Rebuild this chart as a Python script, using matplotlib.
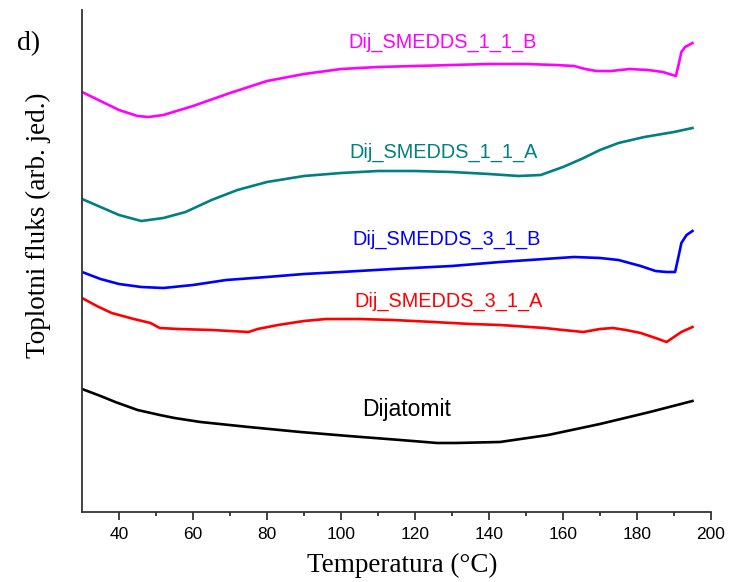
import matplotlib.pyplot as plt

# Temperatura (°C) i toplotni fluks (arb. jed.) za svaki uzorak
t_11b = [30, 35, 40, 45, 48, 52, 60, 70, 80, 90, 100, 110, 120, 130, 140, 150,
         158, 163, 166, 169, 173, 178, 183, 187, 190.5, 191.3, 192, 193, 195]
f_11b = [420, 411, 402, 396, 395, 397, 406, 419, 431, 438, 443, 445, 446, 447, 448, 448,
         447, 446, 443, 441, 441, 443, 442, 440, 436, 448, 460, 465, 469]

t_11a = [30, 35, 40, 46, 52, 58, 65, 72, 80, 90, 100, 110, 120, 130, 140, 148,
         154, 160, 165, 170, 175, 182, 190, 195]
f_11a = [313, 305, 297, 291, 294, 300, 312, 322, 330, 336, 339, 341, 341, 340, 338, 336,
         337, 345, 353, 362, 369, 375, 380, 384]

t_31b = [30, 35, 40, 46, 52, 60, 69, 80, 90, 100, 114, 130, 143, 155, 163, 170,
         175, 181, 185, 188, 190.3, 191.2, 192, 193.4, 195]
f_31b = [240, 233, 228, 225, 224, 227, 232, 235, 238, 240, 243, 246, 250, 253, 255, 254,
         252, 246, 241, 240, 240, 255, 269, 277, 281]

t_31a = [30, 34, 38, 44, 48.5, 51, 56, 65, 75, 77.5, 83, 90, 96, 105, 114, 125,
         135, 143, 155, 160, 165.5, 170, 173.5, 177, 181, 185, 188, 190, 192, 195]
f_31a = [214, 206, 199, 193, 189, 184, 183, 182, 180, 183, 187, 191, 193, 193, 192, 190,
         188, 187, 184, 182, 180, 183, 184, 182, 179, 174, 170, 175, 180, 185]

t_dij = [30, 35, 39, 45, 51, 55, 62, 75, 89, 102, 116, 126, 131, 143, 156, 170, 183.5, 195]
f_dij = [123, 116, 110, 102, 97, 94, 90, 85, 80, 76, 72, 69, 69, 70, 77, 88, 100, 111]

plt.rcParams['font.family'] = ['Liberation Sans', 'DejaVu Sans']

fig = plt.figure(figsize=(7.31, 5.82), dpi=100)
ax = fig.add_axes([0.1122, 0.1203, 0.8604, 0.8625])

lw = 1.9
ax.plot(t_11b, f_11b, color='#ff00ff', lw=lw)
ax.plot(t_11a, f_11a, color='#008080', lw=lw)
ax.plot(t_31b, f_31b, color='#0000ff', lw=lw)
ax.plot(t_31a, f_31a, color='#ff0000', lw=lw)
ax.plot(t_dij, f_dij, color='black', lw=lw)

# Nazivi krivih
fs = 14.3
ax.text(127.4, 464, 'Dij_SMEDDS_1_1_B', color='#ff00ff', fontsize=fs, ha='center', va='baseline')
ax.text(127.7, 354, 'Dij_SMEDDS_1_1_A', color='#008080', fontsize=fs, ha='center', va='baseline')
ax.text(128.5, 267, 'Dij_SMEDDS_3_1_B', color='#0000ff', fontsize=fs, ha='center', va='baseline')
ax.text(129.0, 205, 'Dij_SMEDDS_3_1_A', color='#ff0000', fontsize=fs, ha='center', va='baseline')
ax.text(105.7, 96, 'Dijatomit', color='black', fontsize=16.5, ha='left', va='baseline')

ax.set_xlim(30, 200)
ax.set_ylim(0, 502)
ax.set_xticks(range(40, 201, 20))
ax.set_xticks(range(50, 200, 20), minor=True)
ax.set_yticks([])

for s in ['top', 'right']:
    ax.spines[s].set_visible(False)
for s in ['left', 'bottom']:
    ax.spines[s].set_linewidth(1.3)
    ax.spines[s].set_color('#333333')

ax.tick_params(axis='x', which='major', length=6, width=1.3, color='#333333',
               labelsize=12.5, pad=5)
ax.tick_params(axis='x', which='minor', length=3, width=1.3, color='#333333')

ax.set_xlabel('Temperatura (°C)', family='Liberation Serif', fontsize=19.5)
ax.xaxis.set_label_coords(0.509, -0.082)
ax.set_ylabel('Toplotni fluks (arb. jed.)', family='Liberation Serif', fontsize=19.5)
ax.yaxis.set_label_coords(-0.05, 0.572)

fig.text(17 / 731, 1 - 50 / 582, 'd)', family='Liberation Serif', fontsize=20, va='baseline')

fig.savefig('out.png', dpi=100)
